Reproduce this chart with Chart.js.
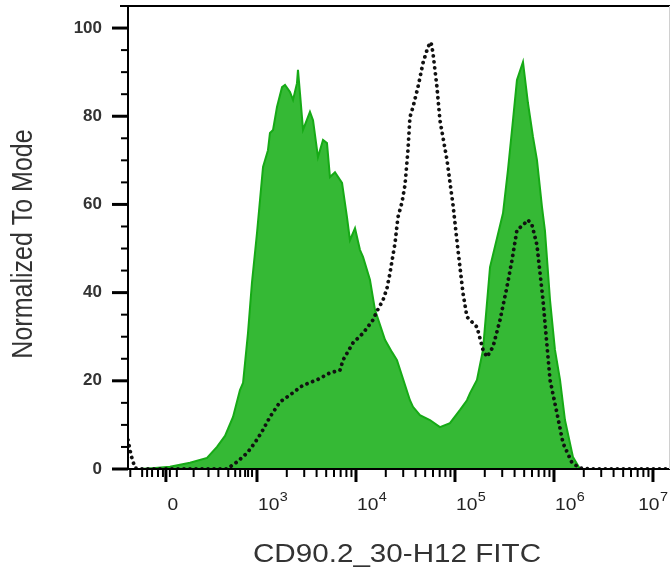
<!DOCTYPE html>
<html>
<head>
<meta charset="utf-8">
<script src="https://cdn.jsdelivr.net/npm/chart.js@4.4.1/dist/chart.umd.min.js"></script>
<style>
  html, body { margin: 0; padding: 0; background: #fff; }
  #wrap { width: 670px; height: 573px; position: relative; }
</style>
</head>
<body>
<div id="wrap"><canvas id="histo"></canvas></div>
<script>
// x is in display decades (3 = 10^3, biex so "0" sits near 2.08), y is % of mode
const greenX = [1.818, 1.970, 2.121, 2.323, 2.495, 2.596, 2.677, 2.758, 2.828, 2.859, 2.909, 2.949, 3.000,
  3.061, 3.111, 3.131, 3.162, 3.202, 3.253, 3.283, 3.333, 3.364, 3.404, 3.414, 3.434, 3.465, 3.535, 3.566,
  3.616, 3.667, 3.707, 3.737, 3.788, 3.859, 3.909, 3.939, 3.990, 4.040, 4.071, 4.141, 4.192, 4.293, 4.364,
  4.414, 4.545, 4.576, 4.646, 4.747, 4.848, 4.949, 5.051, 5.121, 5.152, 5.222, 5.283, 5.354, 5.485, 5.535,
  5.586, 5.626, 5.687, 5.737, 5.788, 5.828, 5.879, 5.909, 5.960, 6.010, 6.061, 6.111, 6.192, 6.263];
const greenY = [0, 0.2, 0.5, 1.4, 2.5, 5.0, 7.5, 11.8, 17.9, 19.5, 30.8, 42.2, 53.5,
  68.5, 72.3, 76.2, 76.9, 82.1, 86.6, 87.1, 85.5, 83.7, 87.5, 90.5, 85.3, 76.9, 81.0, 79.1,
  70.7, 74.6, 73.9, 66.2, 67.3, 64.9, 57.1, 51.9, 54.6, 49.7, 48.1, 42.9, 36.1, 29.3, 26.5,
  24.7, 15.6, 14.1, 12.2, 11.1, 9.5, 10.4, 13.4, 15.6, 17.2, 20.2, 27.0, 45.8, 58.0, 67.8,
  79.1, 88.2, 92.3, 83.0, 75.3, 70.1, 59.4, 54.0, 38.3, 27.0, 20.2, 11.1, 2.7, 0];

const dotX = [1.697, 1.727, 1.768, 1.848, 2.697, 2.798, 2.899, 2.980, 3.051, 3.131, 3.232, 3.333, 3.465,
  3.606, 3.737, 3.838, 3.869, 3.970, 4.071, 4.172, 4.212, 4.273, 4.313, 4.343, 4.394, 4.424, 4.465, 4.495,
  4.525, 4.545, 4.576, 4.626, 4.677, 4.727, 4.758, 4.778, 4.818, 4.848, 4.919, 4.980, 5.030, 5.081, 5.121,
  5.222, 5.283, 5.323, 5.384, 5.455, 5.525, 5.576, 5.626, 5.687, 5.737, 5.778, 5.828, 5.889, 5.960, 6.030,
  6.091, 6.182, 6.263, 6.364, 7.172];
const dotY = [6.6, 3.2, 0.2, 0, 0, 1.6, 3.6, 6.0, 8.5, 11.8, 15.2, 16.8, 19.0,
  20.2, 21.8, 22.4, 24.7, 28.6, 30.8, 33.8, 35.8, 38.3, 41.0, 44.4, 51.2, 57.1, 60.5, 64.4,
  72.3, 79.8, 82.1, 86.6, 92.1, 95.7, 96.8, 94.3, 86.6, 79.1, 70.1, 59.9, 49.7, 39.9, 34.5,
  32.2, 27.0, 25.4, 27.7, 33.8, 41.3, 47.4, 54.2, 55.3, 56.5, 55.3, 50.8, 38.3, 20.2, 12.7,
  5.9, 1.4, 0.2, 0, 0];

// axis ticks
const xMajor = [2.08, 3, 4, 5, 6, 7];
const xLabels = ['0', '10^3', '10^4', '10^5', '10^6', '10^7'];
const xLowMinor = [1.72, 1.84, 1.89, 1.94, 2.0, 2.05, 2.12, 2.19, 2.36, 2.51, 2.61, 2.71, 2.78, 2.83, 2.88, 2.91, 2.95];
const xDecades = [3, 4, 5, 6, 7];
const yMin = 0, yMax = 105, yStep = 5, yLabelEvery = 20;

const FONT = "'Liberation Sans', Arial, sans-serif";

const xMinor = xLowMinor.slice();
xDecades.forEach(d => {
  for (let k = 2; k <= 9; k++) xMinor.push(d + Math.log10(k));
});

function stretchText(ctx, text, x, y, sx, align) {
  ctx.save();
  ctx.translate(x, y);
  ctx.scale(sx, 1);
  ctx.textAlign = align;
  ctx.fillText(text, 0, 0);
  ctx.restore();
}

const flowAxes = {
  id: 'flowAxes',
  afterDatasetsDraw(chart) {
    const { ctx, chartArea: a, scales: { x, y } } = chart;
    ctx.save();
    ctx.strokeStyle = '#000';
    ctx.lineCap = 'butt';

    // frame
    ctx.lineWidth = 2;
    ctx.beginPath();
    ctx.moveTo(120, a.top); ctx.lineTo(a.right, a.top);
    ctx.moveTo(a.left, a.top); ctx.lineTo(a.left, a.bottom);
    ctx.moveTo(a.left, a.bottom); ctx.lineTo(a.right, a.bottom);
    ctx.stroke();
    ctx.strokeStyle = '#d0d0d0';
    ctx.lineWidth = 1;
    ctx.beginPath();
    ctx.moveTo(a.right - 0.5, a.top); ctx.lineTo(a.right - 0.5, a.bottom);
    ctx.stroke();
    ctx.strokeStyle = '#000';

    // y ticks
    y.ticks.forEach(t => {
      if (t.value >= yMax) return;
      const py = y.getPixelForValue(t.value);
      const major = t.value % yLabelEvery === 0;
      ctx.lineWidth = major ? 3 : 2;
      ctx.beginPath();
      ctx.moveTo(a.left - (major ? 16 : 7), py);
      ctx.lineTo(a.left, py);
      ctx.stroke();
    });

    // x ticks
    ctx.lineWidth = 2;
    xMinor.forEach(v => {
      if (v < x.min || v > x.max) return;
      const px = x.getPixelForValue(v);
      ctx.beginPath();
      ctx.moveTo(px, a.bottom);
      ctx.lineTo(px, a.bottom + 8);
      ctx.stroke();
    });
    ctx.lineWidth = 3;
    xMajor.forEach(v => {
      const px = x.getPixelForValue(v);
      ctx.beginPath();
      ctx.moveTo(px, a.bottom);
      ctx.lineTo(px, a.bottom + 13);
      ctx.stroke();
    });

    // x tick labels, 10 with superscript exponent; kept inside the canvas
    ctx.fillStyle = '#222';
    ctx.textBaseline = 'alphabetic';
    const sx = 1.2;
    xMajor.forEach((v, i) => {
      const px = x.getPixelForValue(v);
      const parts = xLabels[i].split('^');
      ctx.font = '16px ' + FONT;
      if (parts.length === 1) {
        stretchText(ctx, parts[0], px + 7, a.bottom + 41, sx, 'center');
      } else {
        const w = ctx.measureText(parts[0]).width * sx;
        ctx.font = '12px ' + FONT;
        const ws = ctx.measureText(parts[1]).width * sx;
        let left = px + 1;
        if (left + w + ws + 0.5 > chart.width - 2) left = chart.width - 2 - w - ws - 0.5;
        ctx.font = '16px ' + FONT;
        stretchText(ctx, parts[0], left, a.bottom + 41, sx, 'left');
        ctx.font = '12px ' + FONT;
        stretchText(ctx, parts[1], left + w + 0.5, a.bottom + 32, sx, 'left');
      }
    });

    // axis titles
    ctx.fillStyle = '#333';
    ctx.font = '25px ' + FONT;
    stretchText(ctx, 'CD90.2_30-H12 FITC', (a.left + a.right) / 2 - 2, 562, 1.185, 'center');

    ctx.save();
    ctx.translate(32, 244);
    ctx.scale(1.185, 1);
    ctx.rotate(-Math.PI / 2);
    ctx.textAlign = 'center';
    ctx.fillText('Normalized To Mode', 0, 0);
    ctx.restore();

    ctx.restore();
  }
};

new Chart(document.getElementById('histo'), {
  type: 'line',
  data: {
    datasets: [{
      label: 'Control',
      data: dotX.map((v, i) => ({ x: v, y: dotY[i] })),
      borderColor: '#111',
      borderWidth: 3.8,
      borderDash: [0.01, 6],
      borderCapStyle: 'round',
      fill: false,
      pointRadius: 0,
      tension: 0,
      order: 0
    }, {
      label: 'CD90.2',
      data: greenX.map((v, i) => ({ x: v, y: greenY[i] })),
      borderColor: '#16aa16',
      backgroundColor: '#35b935',
      borderWidth: 2,
      fill: 'origin',
      pointRadius: 0,
      tension: 0,
      order: 1
    }]
  },
  options: {
    responsive: true,
    maintainAspectRatio: false,
    animation: false,
    layout: { padding: { top: 6, left: 0, right: 0, bottom: 0 } },
    plugins: {
      legend: { display: false },
      tooltip: { enabled: false }
    },
    scales: {
      x: {
        type: 'linear',
        min: 1.697,
        max: 7.172,
        grid: { display: false, drawTicks: false },
        border: { display: false },
        ticks: { display: false },
        afterFit(s) { s.height = 104; s.paddingLeft = 0; s.paddingRight = 0; }
      },
      y: {
        min: yMin,
        max: yMax,
        grid: { display: false, drawTicks: false },
        border: { display: false },
        ticks: {
          stepSize: yStep,
          autoSkip: false,
          padding: 26,
          color: '#333',
          font: { family: FONT, size: 17, weight: 'bold' },
          callback: v => (v % yLabelEvery === 0 && v < yMax ? String(v) : '')
        },
        afterFit(s) { s.width = 128; s.paddingTop = 0; s.paddingBottom = 0; }
      }
    }
  },
  plugins: [flowAxes]
});
</script>
</body>
</html>
